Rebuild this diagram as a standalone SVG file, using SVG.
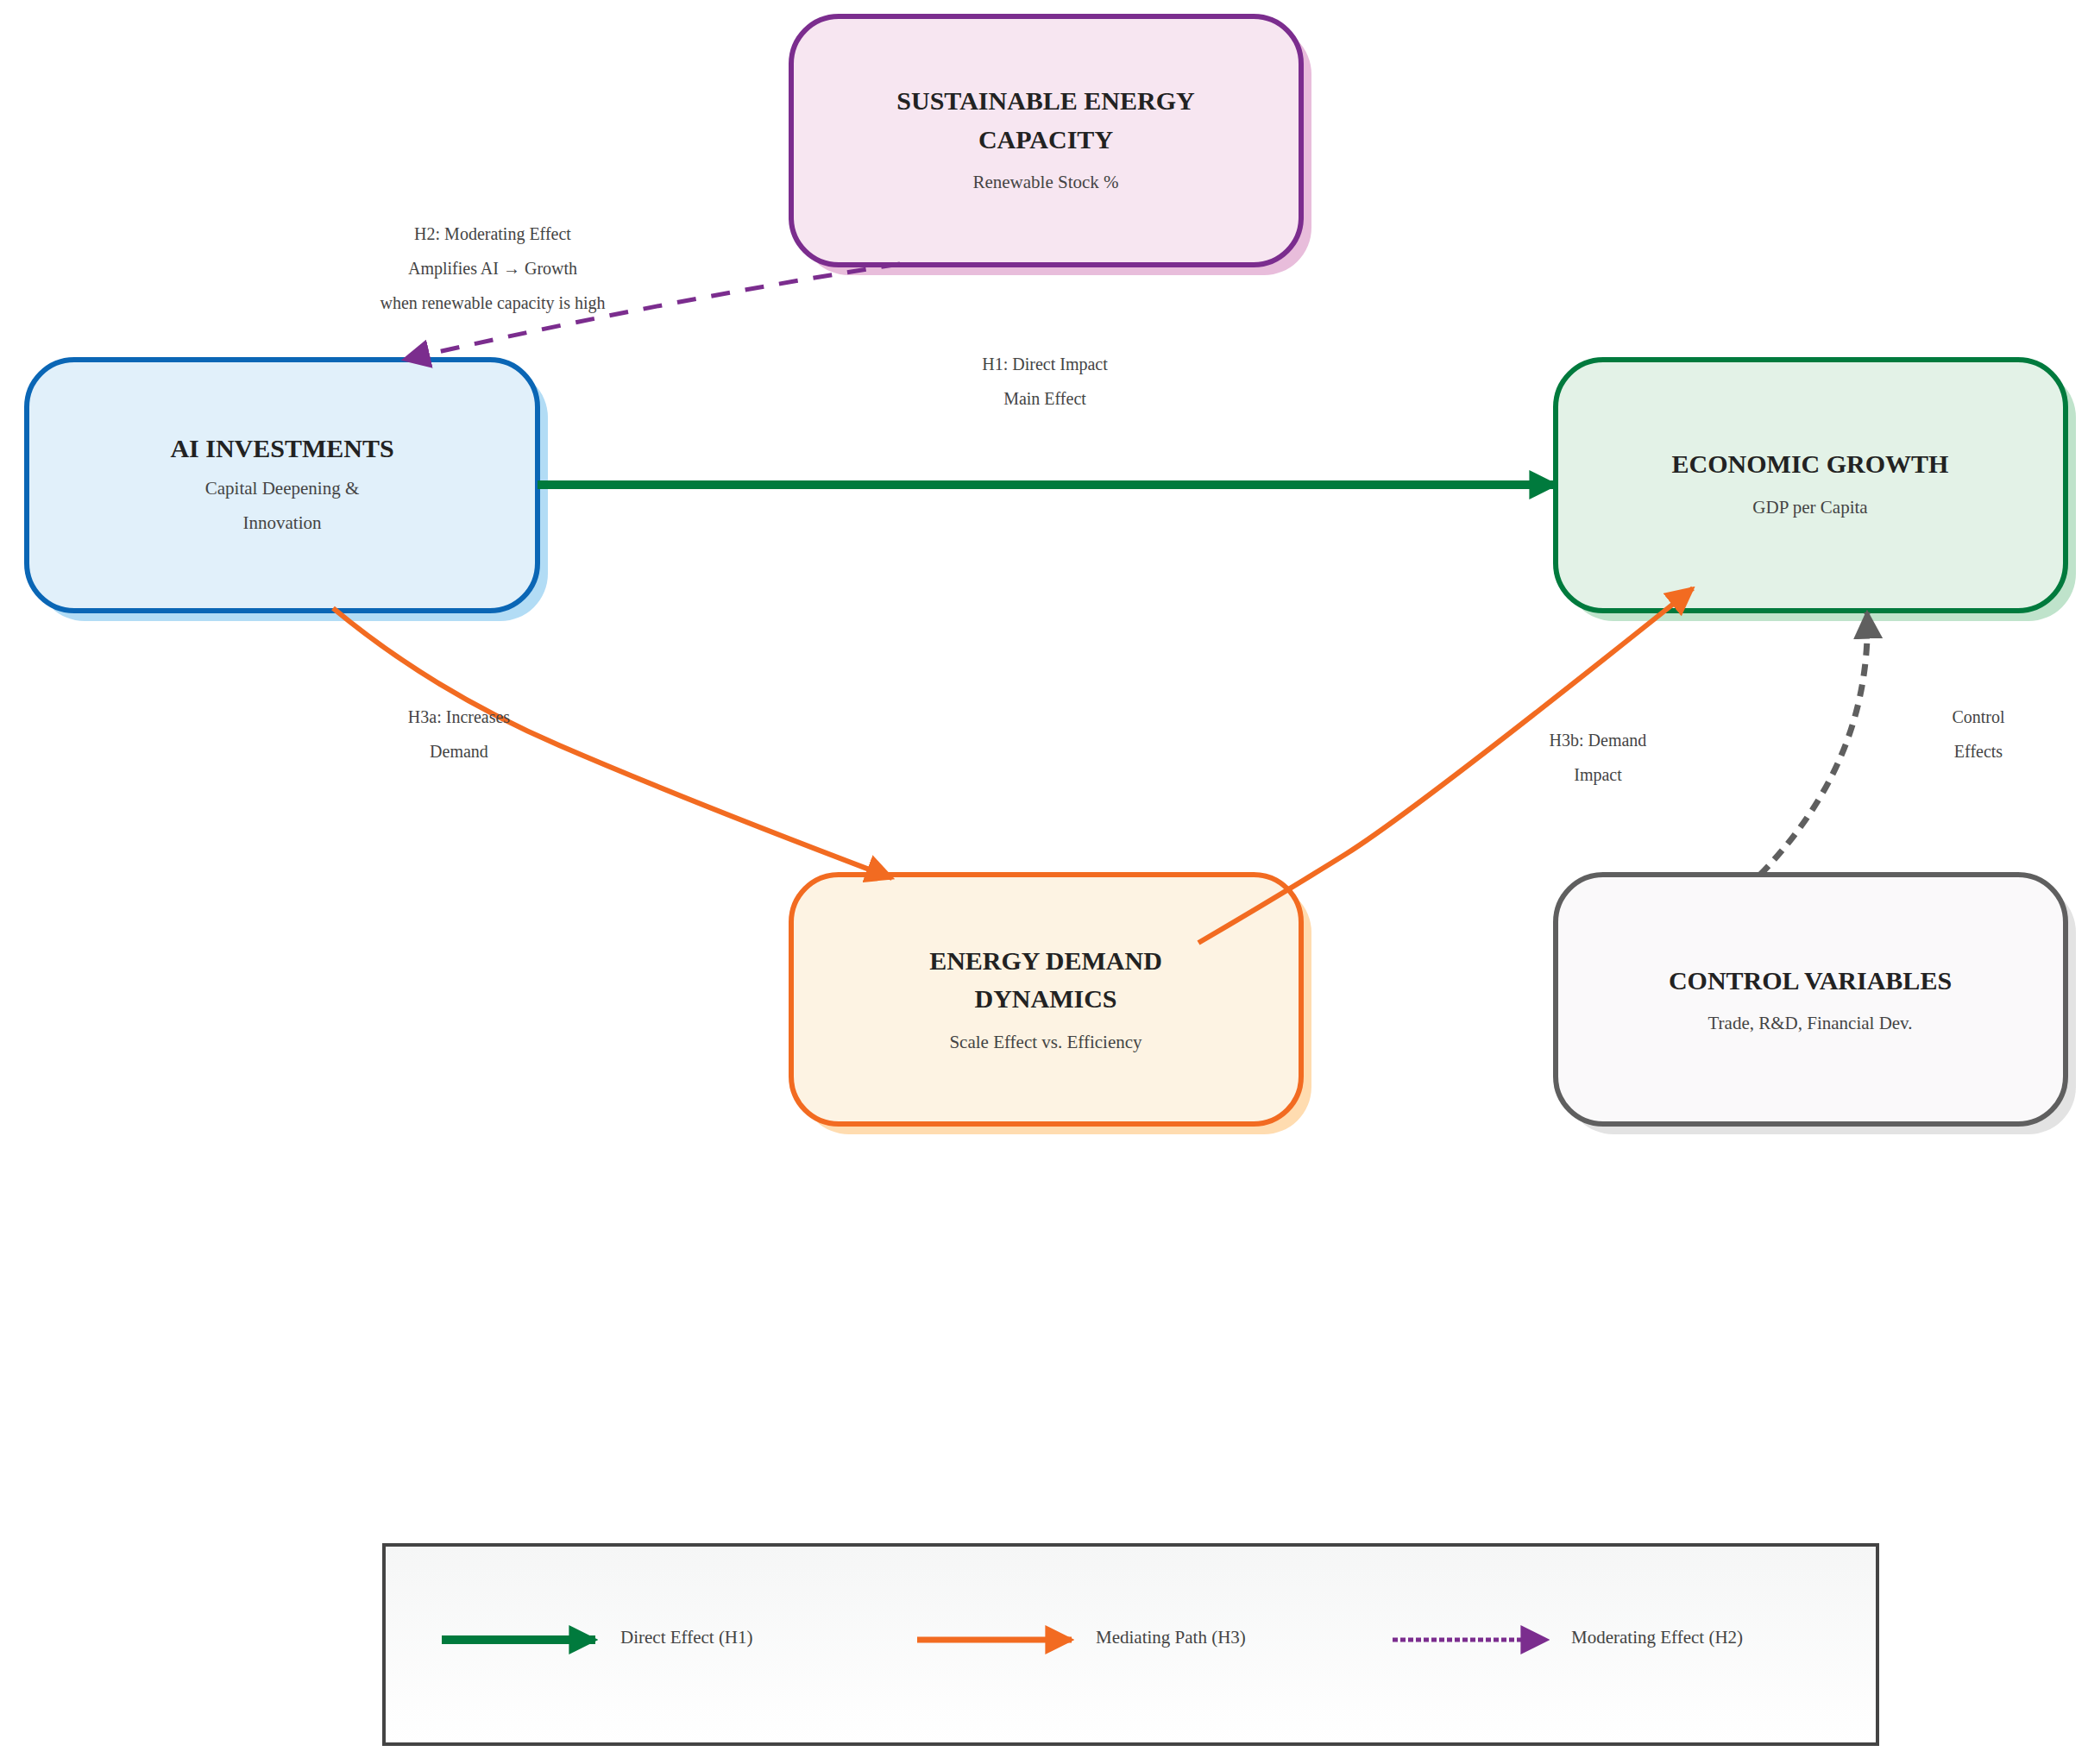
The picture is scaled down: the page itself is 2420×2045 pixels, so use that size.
<svg xmlns="http://www.w3.org/2000/svg" width="2420" height="2045" viewBox="0 0 2420 2045">
<defs>
<style>
.t{font-family:"Liberation Serif",serif;font-weight:bold;font-size:30px;fill:#222;text-anchor:middle}
.s{font-family:"Liberation Serif",serif;font-size:21px;fill:#444;text-anchor:middle}
.l{font-family:"Liberation Serif",serif;font-size:20px;fill:#444;text-anchor:middle}
.lg{font-family:"Liberation Serif",serif;font-size:21px;fill:#444}
.box{stroke-width:6}
</style>
<linearGradient id="lgg" x1="0" y1="0" x2="0" y2="1"><stop offset="0" stop-color="#f5f6f6"/><stop offset="1" stop-color="#ffffff"/></linearGradient>
<marker id="mg" viewBox="0 0 10 10" refX="9" refY="5" markerWidth="34" markerHeight="34" markerUnits="userSpaceOnUse" orient="auto"><path d="M0,0L10,5L0,10z" fill="#007a3d"/></marker>
<marker id="mo" viewBox="0 0 10 10" refX="9" refY="5" markerWidth="34" markerHeight="34" markerUnits="userSpaceOnUse" orient="auto"><path d="M0,0L10,5L0,10z" fill="#f26b21"/></marker>
<marker id="mp" viewBox="0 0 10 10" refX="9" refY="5" markerWidth="34" markerHeight="34" markerUnits="userSpaceOnUse" orient="auto"><path d="M0,0L10,5L0,10z" fill="#7b2d8e"/></marker>
<marker id="mk" viewBox="0 0 10 10" refX="9" refY="5" markerWidth="34" markerHeight="34" markerUnits="userSpaceOnUse" orient="auto"><path d="M0,0L10,5L0,10z" fill="#5f5f5f"/></marker>
</defs>
<rect width="2420" height="2045" fill="#fff"/>
<g id="sustainable">
<rect x="929" y="31" width="591" height="288" rx="55" fill="#e8bddb"/>
<rect x="917" y="19" width="591" height="288" rx="55" fill="#f7e6f1" stroke="#7b2d8e" class="box"/>
<text class="t" x="1212" y="127">SUSTAINABLE ENERGY</text>
<text class="t" x="1212" y="172">CAPACITY</text>
<text class="s" x="1212" y="218">Renewable Stock %</text>
</g>
<g id="ai">
<rect x="43" y="429" width="592" height="291" rx="55" fill="#b2dcf5"/>
<rect x="31" y="417" width="592" height="291" rx="55" fill="#e1f0fa" stroke="#0a66b5" class="box"/>
<text class="t" x="327" y="530">AI INVESTMENTS</text>
<text class="s" x="327" y="573">Capital Deepening &amp;</text>
<text class="s" x="327" y="613">Innovation</text>
</g>
<g id="econ">
<rect x="1815" y="429" width="591" height="291" rx="55" fill="#bfe3cb"/>
<rect x="1803" y="417" width="591" height="291" rx="55" fill="#e3f2e7" stroke="#007a3d" class="box"/>
<text class="t" x="2098" y="548">ECONOMIC GROWTH</text>
<text class="s" x="2098" y="595">GDP per Capita</text>
</g>
<g id="energy">
<rect x="929" y="1026" width="591" height="289" rx="55" fill="#ffdcb0"/>
<rect x="917" y="1014" width="591" height="289" rx="55" fill="#fdf3e3" stroke="#f26b21" class="box"/>
<text class="t" x="1212" y="1124">ENERGY DEMAND</text>
<text class="t" x="1212" y="1168">DYNAMICS</text>
<text class="s" x="1212" y="1215">Scale Effect vs. Efficiency</text>
</g>
<g id="control">
<rect x="1815" y="1026" width="591" height="289" rx="55" fill="#e3e3e3"/>
<rect x="1803" y="1014" width="591" height="289" rx="55" fill="#faf9fa" stroke="#5f5f5f" class="box"/>
<text class="t" x="2098" y="1147">CONTROL VARIABLES</text>
<text class="s" x="2098" y="1193">Trade, R&amp;D, Financial Dev.</text>
</g>
<g id="connectors" fill="none">
<path d="M623,562L1803,562" stroke="#007a3d" stroke-width="10" marker-end="url(#mg)"/>
<path d="M1043,306Q760,350 468,417" stroke="#7b2d8e" stroke-width="5" stroke-dasharray="22,18" marker-end="url(#mp)"/>
<path d="M386,705Q500,800 648,864T1034,1018" stroke="#f26b21" stroke-width="6" marker-end="url(#mo)"/>
<path d="M1389,1093Q1480,1040 1560,990T1962,682" stroke="#f26b21" stroke-width="6" marker-end="url(#mo)"/>
<path d="M2040,1014Q2170,880 2164,710" stroke="#5f5f5f" stroke-width="7" stroke-dasharray="14,10" marker-end="url(#mk)"/>
</g>
<g id="labels">
<text class="l" x="571" y="278">H2: Moderating Effect</text>
<text class="l" x="571" y="318">Amplifies AI → Growth</text>
<text class="l" x="571" y="358">when renewable capacity is high</text>
<text class="l" x="1211" y="429">H1: Direct Impact</text>
<text class="l" x="1211" y="469">Main Effect</text>
<text class="l" x="532" y="838">H3a: Increases</text>
<text class="l" x="532" y="878">Demand</text>
<text class="l" x="1852" y="865">H3b: Demand</text>
<text class="l" x="1852" y="905">Impact</text>
<text class="l" x="2293" y="838">Control</text>
<text class="l" x="2293" y="878">Effects</text>
</g>
<g id="legend">
<rect x="445" y="1791" width="1731" height="231" fill="url(#lgg)" stroke="#444" stroke-width="4"/>
<path d="M512,1901L690,1901" stroke="#007a3d" stroke-width="10" marker-end="url(#mg)"/>
<text class="lg" x="719" y="1905">Direct Effect (H1)</text>
<path d="M1063,1901L1242,1901" stroke="#f26b21" stroke-width="7" marker-end="url(#mo)"/>
<text class="lg" x="1270" y="1905">Mediating Path (H3)</text>
<path d="M1614,1901L1793,1901" stroke="#7b2d8e" stroke-width="5" stroke-dasharray="6,3" marker-end="url(#mp)"/>
<text class="lg" x="1821" y="1905">Moderating Effect (H2)</text>
</g>
</svg>
